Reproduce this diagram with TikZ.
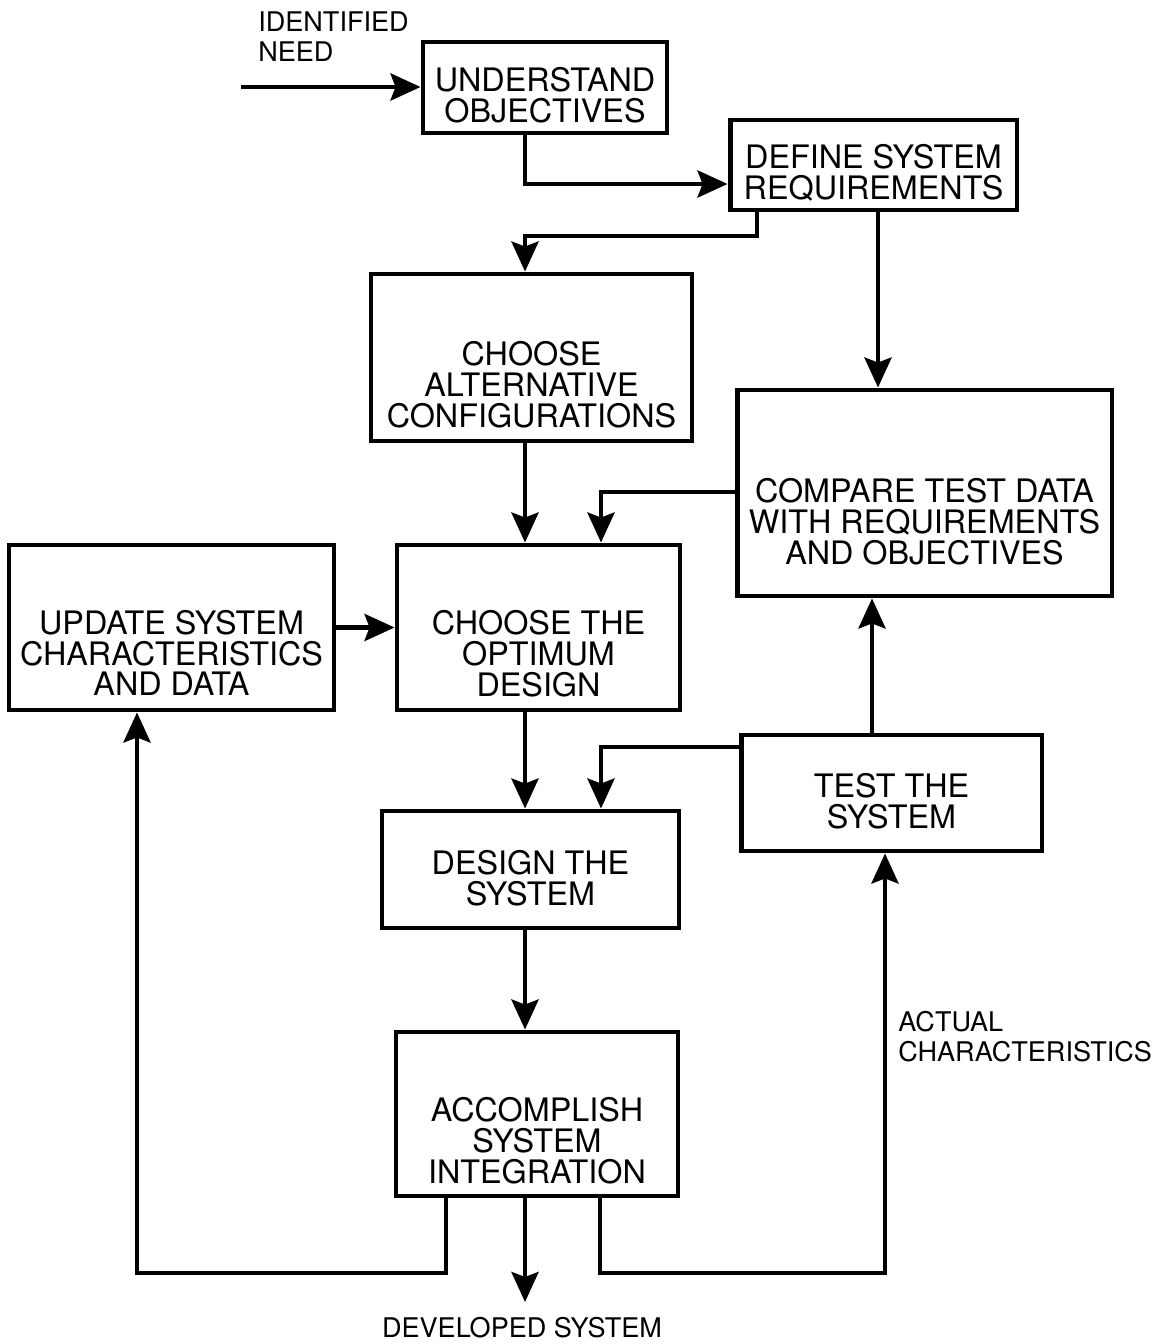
\documentclass[tikz,border=0pt]{standalone}
\usepackage{fontspec}
\setmainfont{TeX Gyre Heros}
\usetikzlibrary{arrows.meta}
\newcommand\boxfont{\fontsize{18.4}{17.6}\selectfont}
\newcommand\lblfont{\fontsize{15.4}{17}\selectfont}
\begin{document}
\begin{tikzpicture}[x = .02cm, y = -.02cm,
		box/.style = {draw, line width = 2.8pt, inner sep = 0pt},
		txt/.style = {align = center, font = \boxfont, inner sep = 0pt},
		lbl/.style = {align = left, font = \lblfont, inner sep = 0pt},
		flow/.style = {line width = 2.6pt, -{Stealth[length = .6cm, width = .54cm, inset = .1cm]}}]
	\useasboundingbox (0, 0) rectangle (1164, 1344);
	\foreach \nm/\cx/\cy/\bw/\bh/\dy/\tx in {
		uo/545/87.5/4.88/1.82/-.16/{UNDERSTAND\\OBJECTIVES},
		dsr/873.5/165/5.74/1.8/-.16/{DEFINE SYSTEM\\REQUIREMENTS},
		cac/531.5/357.5/6.42/3.34/-.55/{CHOOSE\\ALTERNATIVE\\CONFIGURATIONS},
		ctd/924.5/493/7.5/4.12/-.58/{COMPARE TEST DATA\\WITH REQUIREMENTS\\AND OBJECTIVES},
		upd/171.5/627.5/6.5/3.3/-.51/{UPDATE SYSTEM\\CHARACTERISTICS\\AND DATA},
		cod/538.5/627.5/5.66/3.3/-.53/{CHOOSE THE\\OPTIMUM\\DESIGN},
		tst/891.5/793/6.02/2.32/-.16/{TEST THE\\SYSTEM},
		dts/530.5/869.5/5.94/2.34/-.17/{DESIGN THE\\SYSTEM},
		asi/537/1114/5.64/3.28/-.54/{ACCOMPLISH\\SYSTEM\\INTEGRATION}}
	{
		\node[box, minimum width = \bw cm, minimum height = \bh cm] (\nm) at (\cx, \cy) {};
		\node[txt] (\nm-t) at ([yshift = \dy cm]\nm.center) {\tx};
	}
	% free labels
	\node[lbl, anchor = west] (need-t) at (258, 37) {IDENTIFIED\\NEED};
	\node[lbl, anchor = west] (act-t) at (898, 1037) {ACTUAL\\CHARACTERISTICS};
	\node[lbl] (dev-t) at (522, 1328) {DEVELOPED SYSTEM};
	% bend points
	\coordinate (spine) at (525, 0);
	\coordinate (need) at (241, 87);
	\coordinate (k1) at (525, 184);
	\coordinate (k2) at (757, 236);
	\coordinate (k3) at (878, 0);
	\coordinate (k4) at (601, 492);
	\coordinate (k5) at (601, 747);
	\coordinate (k6) at (872, 0);
	\coordinate (k7) at (446, 1273);
	\coordinate (k8) at (137, 1273);
	\coordinate (k9) at (600, 1273);
	\coordinate (k10) at (885, 1273);
	\coordinate (out) at (525, 1302);
	% connectors
	\draw[flow] (need) -- (uo.west |- need);
	\draw[flow] (uo.south -| k1) |- (dsr.west |- k1);
	\draw[flow] (dsr.south -| k2) |- (k2 -| spine) -- (cac.north -| spine);
	\draw[flow] (dsr.south -| k3) -- (ctd.north -| k3);
	\draw[flow] (cac.south -| spine) -- (cod.north -| spine);
	\draw[flow] (ctd.west |- k4) -| (cod.north -| k4);
	\draw[flow] (upd.east) -- (cod.west);
	\draw[flow] (cod.south -| spine) -- (dts.north -| spine);
	\draw[flow] (tst.west |- k5) -| (dts.north -| k5);
	\draw[flow] (tst.north -| k6) -- (ctd.south -| k6);
	\draw[flow] (dts.south -| spine) -- (asi.north -| spine);
	\draw[flow] (asi.south -| k7) -- (k7) -- (k8) -- (upd.south -| k8);
	\draw[flow] (asi.south -| k9) -- (k9) -- (k10) -- (tst.south -| k10);
	\draw[flow] (asi.south -| spine) -- (out);
\end{tikzpicture}
\end{document}
